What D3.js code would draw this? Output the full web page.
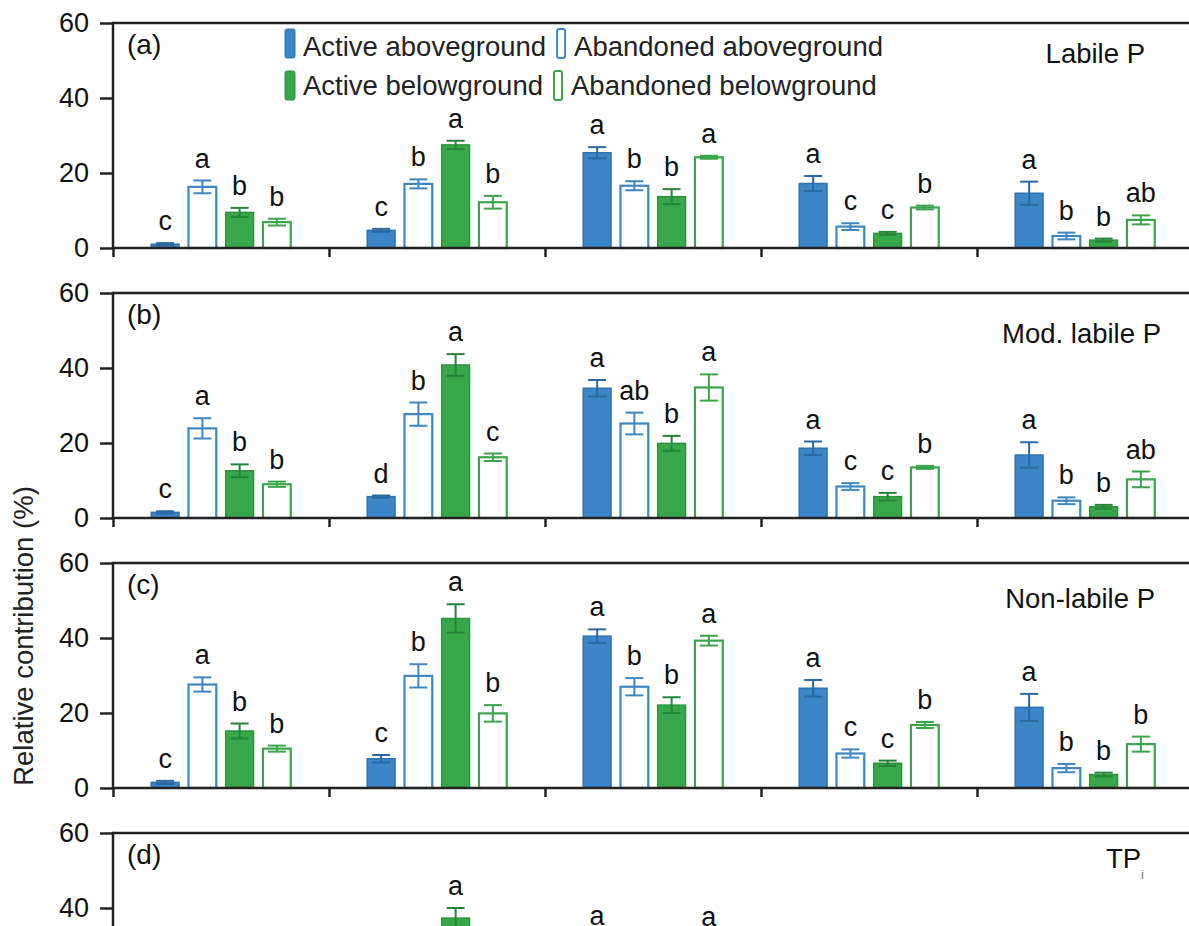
<!DOCTYPE html>
<html><head><meta charset="utf-8">
<script src="https://cdn.jsdelivr.net/npm/d3@7"></script>
<style>body{margin:0;background:#fff} svg{display:block}</style>
</head><body>
<svg id="chart" width="1189" height="926"></svg>
<script>
// ---------------- data ----------------
const groups = ["G1", "G2", "G3", "G4", "G5"];
const series = ["Active aboveground", "Abandoned aboveground", "Active belowground", "Abandoned belowground"];
const panelIds = ["(a)", "(b)", "(c)", "(d)"];
const panelTitles = ["Labile P", "Mod. labile P", "Non-labile P", "TP"];
const panelTitleSub = ["", "", "", "i"];
const yTicks = [0, 20, 40, 60];
const yDomain = [0, 60];

// mean[group][series]
const labileMean = [[1.0, 16.3, 9.5, 6.9], [4.7, 17.1, 27.5, 12.2], [25.4, 16.6, 13.7, 24.2], [17.2, 5.7, 3.9, 10.8], [14.6, 3.2, 2.1, 7.5]];
const labileSE = [[0.3, 1.7, 1.2, 0.9], [0.4, 1.2, 1.1, 1.7], [1.5, 1.2, 2.0, 0.4], [2.0, 0.9, 0.4, 0.5], [3.1, 0.9, 0.4, 1.2]];
const labileLetters = [["c", "a", "b", "b"], ["c", "b", "a", "b"], ["a", "b", "b", "a"], ["a", "c", "c", "b"], ["a", "b", "b", "ab"]];

const modMean = [[1.5, 23.9, 12.6, 9.0], [5.7, 27.7, 40.8, 16.2], [34.6, 25.2, 19.9, 34.8], [18.6, 8.4, 5.7, 13.5], [16.8, 4.6, 3.0, 10.3]];
const modSE = [[0.3, 2.7, 1.7, 0.7], [0.3, 3.1, 2.9, 1.0], [2.2, 2.9, 2.0, 3.5], [1.8, 0.9, 1.0, 0.4], [3.4, 0.9, 0.5, 2.1]];
const modLetters = [["c", "a", "b", "b"], ["d", "b", "a", "c"], ["a", "ab", "b", "a"], ["a", "c", "c", "b"], ["a", "b", "b", "ab"]];

const nonMean = [[1.5, 27.6, 15.2, 10.5], [7.8, 29.9, 45.2, 19.9], [40.5, 27.0, 22.1, 39.3], [26.6, 9.2, 6.6, 16.8], [21.5, 5.3, 3.6, 11.7]];
const nonSE = [[0.4, 1.9, 2.0, 0.8], [1.0, 3.1, 3.8, 2.2], [1.8, 2.3, 2.1, 1.3], [2.2, 1.1, 0.7, 0.8], [3.6, 1.1, 0.5, 2.0]];
const nonLetters = [["c", "a", "b", "b"], ["c", "b", "a", "b"], ["a", "b", "b", "a"], ["a", "c", "c", "b"], ["a", "b", "b", "b"]];

// panel (d) is cut by the picture's lower edge: only the tallest marks show
const tpMean = [[1.4, 21.0, 12.0, 8.5], [6.0, 21.5, 37.3, 15.5], [30.0, 21.0, 17.5, 29.5], [20.0, 7.5, 5.0, 13.5], [17.0, 4.0, 2.8, 9.5]];
const tpSE = [[0.3, 2.0, 1.8, 0.8], [0.8, 2.5, 2.7, 1.8], [2.0, 2.0, 2.0, 2.3], [2.0, 1.0, 0.6, 0.7], [3.0, 1.0, 0.5, 1.8]];
const tpLetters = [["c", "a", "b", "b"], ["c", "b", "a", "b"], ["a", "b", "b", "a"], ["a", "c", "c", "b"], ["a", "b", "b", "b"]];

const panelMeans = [labileMean, modMean, nonMean, tpMean];
const panelSEs = [labileSE, modSE, nonSE, tpSE];
const panelLetters = [labileLetters, modLetters, nonLetters, tpLetters];

// ---------------- styling / layout ----------------
const FONT = "'Liberation Sans', Arial, Helvetica, sans-serif";
const fillCol = ["#3a86c6", "#ffffff", "#38a74a", "#ffffff"];
const strokeCol = ["#2f74b0", "#3f87c4", "#2c933c", "#3aa54b"];
const errCol = ["#2a68a0", "#3f87c4", "#25843a", "#3aa54b"];
const axisCol = "#222";

const left = 113, right = 1193;
const panelTop0 = 23, panelStep = 270, panelH = 225;
const titleRight = [1145, 1161, 1155, 1144];
const titleBase = [40, 50, 45, 35];

const svg = d3.select("#chart");

const x0 = d3.scaleBand().domain(groups).range([left, right]).padding(0);
const x1 = d3.scaleBand().domain(series).range([0, x0.bandwidth()]).paddingInner(0.2).paddingOuter(1.0);
const xb = d3.scaleLinear().domain([0, groups.length]).range([left, right]);

panelIds.forEach((pid, pi) => {
  const top = panelTop0 + pi * panelStep;
  const bottom = top + panelH;
  const y = d3.scaleLinear().domain(yDomain).range([bottom, top]);
  const g = svg.append("g");

  // bars
  const means = panelMeans[pi], ses = panelSEs[pi], lets = panelLetters[pi];
  groups.forEach((gr, gi) => {
    series.forEach((s, si) => {
      const m = means[gi][si], se = ses[gi][si];
      const bx = x0(gr) + x1(s);
      const bw = x1.bandwidth();
      const hollow = si % 2 === 1;
      g.append("rect")
        .attr("x", bx + 1).attr("y", y(m))
        .attr("width", bw - 2).attr("height", y(0) - y(m))
        .attr("fill", fillCol[si])
        .attr("stroke", strokeCol[si])
        .attr("stroke-width", hollow ? 2.2 : 1.5);
      const cx = bx + bw / 2;
      const cw = 9;
      const eg = g.append("g").attr("stroke", errCol[si]).attr("stroke-width", 2).attr("fill", "none");
      eg.append("line").attr("x1", cx).attr("x2", cx).attr("y1", y(m - se)).attr("y2", y(m + se));
      eg.append("line").attr("x1", cx - cw).attr("x2", cx + cw).attr("y1", y(m + se)).attr("y2", y(m + se));
      eg.append("line").attr("x1", cx - cw).attr("x2", cx + cw).attr("y1", y(Math.max(0, m - se))).attr("y2", y(Math.max(0, m - se)));
      g.append("text")
        .attr("x", cx).attr("y", y(m + se) - 13)
        .attr("text-anchor", "middle")
        .attr("font-family", FONT).attr("font-size", 27).attr("fill", "#111")
        .text(lets[gi][si]);
    });
  });

  // y axis
  const ya = g.append("g").attr("transform", `translate(${left},0)`)
    .call(d3.axisLeft(y).tickValues(yTicks).tickSize(13).tickPadding(11).tickFormat(d3.format("d")));
  ya.select(".domain").remove();
  ya.selectAll(".tick line").attr("stroke", axisCol).attr("stroke-width", 2.5);
  ya.selectAll(".tick text").attr("font-family", FONT).attr("font-size", 27).attr("fill", "#111");

  // x axis (group boundaries)
  const xa = g.append("g").attr("transform", `translate(0,${bottom})`)
    .call(d3.axisBottom(xb).tickValues(d3.range(groups.length + 1)).tickSize(9).tickFormat(""));
  xa.select(".domain").remove();
  xa.selectAll(".tick line").attr("stroke", axisCol).attr("stroke-width", 2.5);

  // frame lines
  g.append("line").attr("x1", left).attr("x2", right).attr("y1", bottom).attr("y2", bottom)
    .attr("stroke", axisCol).attr("stroke-width", 2.5);
  g.append("line").attr("x1", left).attr("x2", right).attr("y1", top).attr("y2", top)
    .attr("stroke", axisCol).attr("stroke-width", 2.5);
  g.append("line").attr("x1", left).attr("x2", left).attr("y1", top - 1.25).attr("y2", bottom)
    .attr("stroke", axisCol).attr("stroke-width", 2.5);

  // panel id
  g.append("text").attr("x", 127).attr("y", top + 31)
    .attr("font-family", FONT).attr("font-size", 28).attr("fill", "#111").text(pid);

  // title
  const t = g.append("text").attr("x", titleRight[pi]).attr("y", top + titleBase[pi])
    .attr("text-anchor", "end")
    .attr("font-family", FONT).attr("font-size", 27.5).attr("fill", "#111");
  t.append("tspan").text(panelTitles[pi]);
  if (panelTitleSub[pi]) {
    t.append("tspan").attr("font-size", 13).attr("dy", 11).attr("fill", "#777").text(panelTitleSub[pi]);
  }
});

// y axis title
svg.append("text")
  .attr("transform", `translate(33,636) rotate(-90)`)
  .attr("text-anchor", "middle")
  .attr("font-family", FONT).attr("font-size", 27.5).attr("fill", "#222")
  .text("Relative contribution (%)");

// legend
const legRows = [[0, 1], [2, 3]];
const legBase = [56, 95];
const legSwTop = [28, 70];
legRows.forEach((row, ri) => {
  let cx = 285;
  row.forEach((si) => {
    const hollow = si % 2 === 1;
    svg.append("rect")
      .attr("x", cx + (hollow ? 1 : 0)).attr("y", legSwTop[ri] + 1)
      .attr("width", hollow ? 8 : 10).attr("height", 29)
      .attr("rx", 2)
      .attr("fill", fillCol[si]).attr("stroke", strokeCol[si]).attr("stroke-width", hollow ? 2 : 1);
    cx += 18;
    const tx = svg.append("text").attr("x", cx).attr("y", legBase[ri])
      .attr("font-family", FONT).attr("font-size", 27.5).attr("fill", "#222")
      .text(series[si]);
    cx += tx.node().getComputedTextLength() + 10;
  });
});
</script>
</body></html>
